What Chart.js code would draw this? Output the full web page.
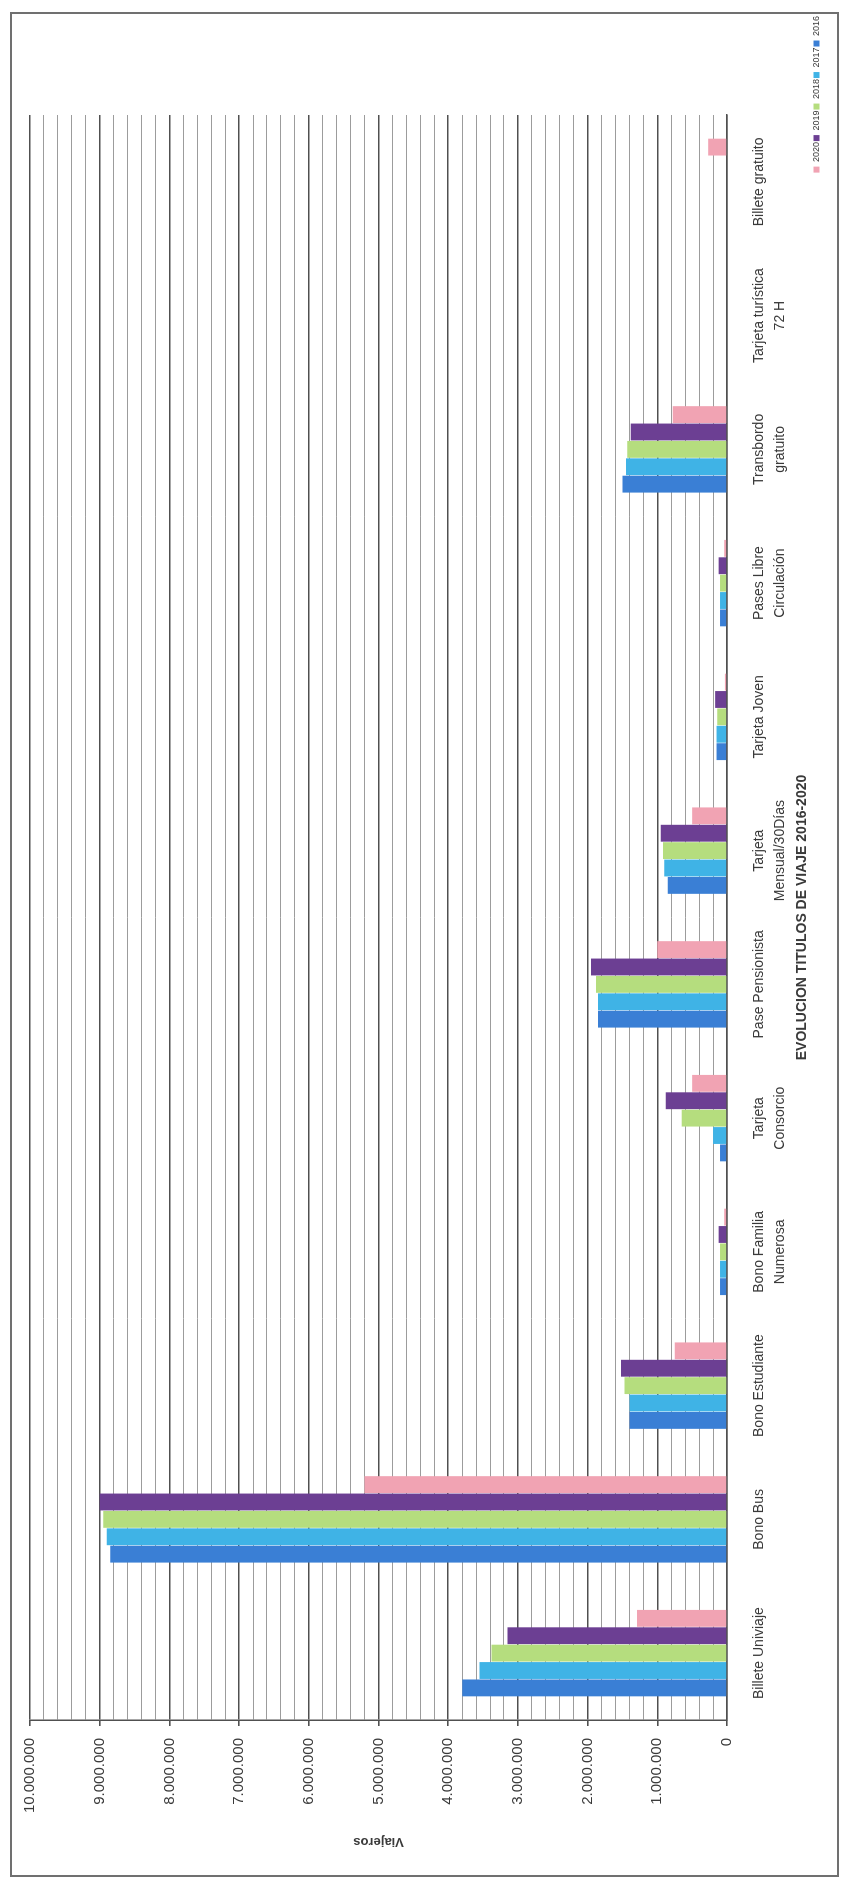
<!DOCTYPE html>
<html>
<head>
<meta charset="utf-8">
<title>Evolución títulos de viaje 2016-2020</title>
<script src="https://cdn.jsdelivr.net/npm/chart.js@4.4.1/dist/chart.umd.min.js"></script>
<style>
    html, body { margin: 0; padding: 0; background: #fff; }
    body { width: 843px; height: 1887px; position: relative; overflow: hidden; }
    .frame {
        position: absolute; left: 10px; top: 12px;
        width: 825px; height: 1861px;
        border: 2px solid #707070;
    }
    /* the chart is laid out landscape and turned a quarter turn to fit the page */
    .turn {
        position: absolute; left: 0; top: 0;
        width: 1887px; height: 843px;
        transform-origin: 0 0;
        transform: translateY(1887px) rotate(-90deg);
    }
</style>
</head>
<body>
<div class="frame"></div>
<div class="turn"><canvas id="titulos" width="1887" height="843"></canvas></div>
<script>
const categories = [
    'Billete Univiaje',
    'Bono Bus',
    'Bono Estudiante',
    ['Bono Familia', 'Numerosa'],
    ['Tarjeta', 'Consorcio'],
    'Pase Pensionista',
    ['Tarjeta', 'Mensual/30Días'],
    'Tarjeta Joven',
    ['Pases Libre', 'Circulación'],
    ['Transbordo', 'gratuito'],
    ['Tarjeta turística', '72 H'],
    'Billete gratuito',
];

const years = ['2016', '2017', '2018', '2019', '2020'];

const viajeros2016 = [3800000, 8850000, 1400000, 100000, 100000, 1850000, 850000, 150000, 100000, 1500000, 0, 0];
const viajeros2017 = [3550000, 8900000, 1400000, 100000, 200000, 1850000, 900000, 150000, 100000, 1450000, 0, 0];
const viajeros2018 = [3380000, 8950000, 1470000, 100000, 650000, 1880000, 920000, 140000, 100000, 1430000, 0, 0];
const viajeros2019 = [3150000, 9000000, 1520000, 120000, 880000, 1950000, 950000, 170000, 120000, 1380000, 0, 0];
const viajeros2020 = [1290000, 5200000, 750000, 40000, 500000, 1000000, 500000, 30000, 40000, 780000, 0, 270000];

const yearColors = ['#3a7fd5', '#3fb3e6', '#b5dd7e', '#6c3f93', '#f1a3b3'];

const valueTicks = { min: 0, max: 10000000, step: 200000, major: 1000000 };

const series = [viajeros2016, viajeros2017, viajeros2018, viajeros2019, viajeros2020];

const withDots = (v) => String(v).replace(/\B(?=(\d{3})+(?!\d))/g, '.');
const isMajor = (v) => v % valueTicks.major === 0;

const textColor = '#3a3a3a';
const family = '"Liberation Sans", Arial, sans-serif';

new Chart(document.getElementById('titulos'), {
    type: 'bar',
    data: {
        labels: categories,
        datasets: years.map((year, i) => ({
            label: year,
            data: series[i],
            backgroundColor: yearColors[i],
            borderWidth: 0,
            barPercentage: 0.97,
            categoryPercentage: 0.65,
        })),
    },
    options: {
        responsive: false,
        animation: false,
        devicePixelRatio: 1,
        layout: {
            padding: { left: 10, right: 15, top: 30, bottom: 12 },
        },
        plugins: {
            tooltip: { enabled: false },
            legend: {
                display: true,
                position: 'bottom',
                align: 'end',
                reverse: true,
                labels: {
                    boxWidth: 6,
                    boxHeight: 6,
                    padding: 1,
                    color: textColor,
                    font: { family, size: 9 },
                },
            },
        },
        scales: {
            x: {
                grid: { display: false },
                border: { display: true, color: '#505050', width: 1.5 },
                ticks: {
                    autoSkip: false,
                    maxRotation: 0,
                    padding: 14,
                    color: textColor,
                    font: { family, size: 14, lineHeight: 1.5 },
                },
                title: {
                    display: true,
                    text: 'EVOLUCION TITULOS DE VIAJE 2016-2020',
                    color: textColor,
                    font: { family, size: 14, weight: 'bold' },
                    padding: { top: 0, bottom: 0 },
                },
                afterFit: (scale) => { scale.height = 84; },
            },
            y: {
                min: valueTicks.min,
                max: valueTicks.max,
                border: { display: true, color: '#505050', width: 1.5 },
                grid: {
                    color: (ctx) => (isMajor(ctx.tick.value) ? '#505050' : '#9c9c9c'),
                    lineWidth: (ctx) => (isMajor(ctx.tick.value) ? 1.6 : 1),
                    tickColor: (ctx) => (isMajor(ctx.tick.value) ? '#505050' : 'rgba(0,0,0,0)'),
                    tickLength: 6,
                },
                ticks: {
                    stepSize: valueTicks.step,
                    autoSkip: false,
                    padding: 12,
                    color: textColor,
                    font: { family, size: 15 },
                    callback: (v) => (isMajor(v) ? withDots(v) : ''),
                },
                title: {
                    display: true,
                    text: 'Viajeros',
                    color: textColor,
                    font: { family, size: 13, weight: 'bold' },
                    padding: { top: 28, bottom: 0 },
                },
                afterFit: (scale) => { scale.width = 157; },
            },
            // empty strip past the last category, where the legend sits
            margin: {
                position: 'right',
                display: true,
                grid: { display: false },
                border: { display: false },
                ticks: { display: false },
                afterFit: (scale) => { scale.width = 100; },
            },
        },
    },
});
</script>
</body>
</html>
